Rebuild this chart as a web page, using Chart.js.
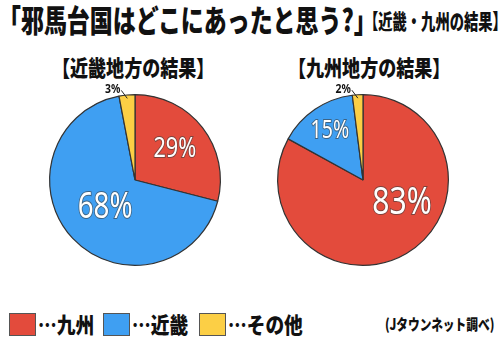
<!DOCTYPE html>
<html>
<head>
<meta charset="utf-8">
<script src="https://cdn.jsdelivr.net/npm/chart.js@4"></script>
<style>
  html, body { margin: 0; padding: 0; background: #fff; }
  #stage { position: relative; width: 500px; height: 343px; overflow: hidden; font-family: "Noto Sans CJK JP", sans-serif; color: #111; }
  .txt { position: absolute; white-space: nowrap; font-weight: 900; transform-origin: left top; line-height: 1; }
  canvas { position: absolute; }
  .swatch { position: absolute; width: 25px; height: 21px; border: 1px solid #555; }
</style>
</head>
<body>
<div id="stage">
  <div class="txt" id="mainTitle" style="left:-2px; top:3px; font-size:31px; transform:scaleX(0.74);"></div>
  <div class="txt" id="subTitle" style="left:364px; top:10px; font-size:21px; transform:scaleX(0.68);"></div>
  <div class="txt" id="panelTitle0" style="left:52px; top:55px; font-size:22px; transform:scaleX(0.82);"></div>
  <div class="txt" id="panelTitle1" style="left:288px; top:55px; font-size:22px; transform:scaleX(0.82);"></div>
  <canvas id="kinkiChart" width="228" height="200" style="left:21px; top:80px;"></canvas>
  <canvas id="kyushuChart" width="228" height="200" style="left:249px; top:80px;"></canvas>
  <div id="legend"></div>
  <div class="txt" id="source" style="left:385px; top:316px; font-size:15px; transform:scaleX(0.78);"></div>
</div>
<script>
const mainTitle = '「邪馬台国はどこにあったと思う?」';
const subTitle = '【近畿・九州の結果】';
const panelTitles = ['【近畿地方の結果】', '【九州地方の結果】'];
const regions = ['九州', '近畿', 'その他'];
const kinkiResults = [29, 68, 3];
const kyushuResults = [83, 15, 2];
const sourceNote = '(Jタウンネット調べ)';

const colors = ['#e34b3c', '#3f9ff2', '#fccf45'];
// label placement per slice: [radius fraction, angle shift in degrees]
const kinkiLabelPos = [[0.59, 0], [0.48, 0]];
const kyushuLabelPos = [[0.53, -29], [0.69, 0]];

document.getElementById('mainTitle').textContent = mainTitle;
document.getElementById('subTitle').textContent = subTitle;
document.getElementById('panelTitle0').textContent = panelTitles[0];
document.getElementById('panelTitle1').textContent = panelTitles[1];
document.getElementById('source').textContent = sourceNote;

const legendX = [9, 103, 199];
const legend = document.getElementById('legend');
regions.forEach((name, i) => {
    const sw = document.createElement('div');
    sw.className = 'swatch';
    sw.style.left = legendX[i] + 'px';
    sw.style.top = '313px';
    sw.style.background = colors[i];
    legend.appendChild(sw);
    const t = document.createElement('div');
    t.className = 'txt';
    t.textContent = '…' + name;
    t.style.left = (legendX[i] + 29) + 'px';
    t.style.top = '312px';
    t.style.fontSize = '22px';
    t.style.transform = 'scaleX(0.85)';
    legend.appendChild(t);
});

const sliceLabels = {
    id: 'sliceLabels',
    afterDatasetsDraw(chart, args, opts) {
        const ctx = chart.ctx;
        const meta = chart.getDatasetMeta(0);
        const values = chart.data.datasets[0].data;
        meta.data.forEach((arc, i) => {
            const p = arc.getProps(['x', 'y', 'startAngle', 'endAngle', 'outerRadius'], true);
            const mid = (p.startAngle + p.endAngle) / 2;
            const text = values[i] + '%';
            ctx.save();
            if (i < 2) {
                const [rf, shift] = opts.pos[i];
                const a = mid + shift * Math.PI / 180;
                const x = p.x + Math.cos(a) * p.outerRadius * rf;
                const y = p.y + Math.sin(a) * p.outerRadius * rf;
                const size = 22 + values[i] * 0.2;
                ctx.translate(x, y);
                ctx.scale(0.78, 1);
                ctx.font = size + 'px "Noto Sans", sans-serif';
                ctx.textAlign = 'center';
                ctx.textBaseline = 'middle';
                ctx.lineWidth = 2;
                ctx.strokeStyle = 'rgba(60,60,60,0.6)';
                ctx.strokeText(text, 0, 0);
                ctx.fillStyle = '#fff';
                ctx.fillText(text, 0, 0);
            } else {
                const ex = p.x + Math.cos(mid) * p.outerRadius * 0.96;
                const ey = p.y + Math.sin(mid) * p.outerRadius * 0.96;
                const lx = ex - 6;
                const ly = ey - 8;
                ctx.strokeStyle = '#222';
                ctx.lineWidth = 1;
                ctx.beginPath();
                ctx.moveTo(ex, ey);
                ctx.lineTo(lx, ly);
                ctx.stroke();
                ctx.translate(lx - 1, ly - 1);
                ctx.scale(0.8, 1);
                ctx.font = 'bold 13px "Noto Sans", sans-serif';
                ctx.textAlign = 'right';
                ctx.textBaseline = 'middle';
                ctx.fillStyle = '#111';
                ctx.fillText(text, 0, 0);
            }
            ctx.restore();
        });
    }
};

function makePie(id, values, pos) {
    return new Chart(document.getElementById(id), {
        type: 'pie',
        data: {
            labels: regions,
            datasets: [{
                data: values,
                backgroundColor: colors,
                borderColor: '#333',
                borderWidth: 1.2,
            }],
        },
        options: {
            responsive: false,
            animation: false,
            layout: { padding: { left: 28, right: 28, top: 14, bottom: 14 } },
            plugins: {
                legend: { display: false },
                tooltip: { enabled: false },
                sliceLabels: { pos: pos },
            },
        },
        plugins: [sliceLabels],
    });
}

makePie('kinkiChart', kinkiResults, kinkiLabelPos);
makePie('kyushuChart', kyushuResults, kyushuLabelPos);
</script>
</body>
</html>
